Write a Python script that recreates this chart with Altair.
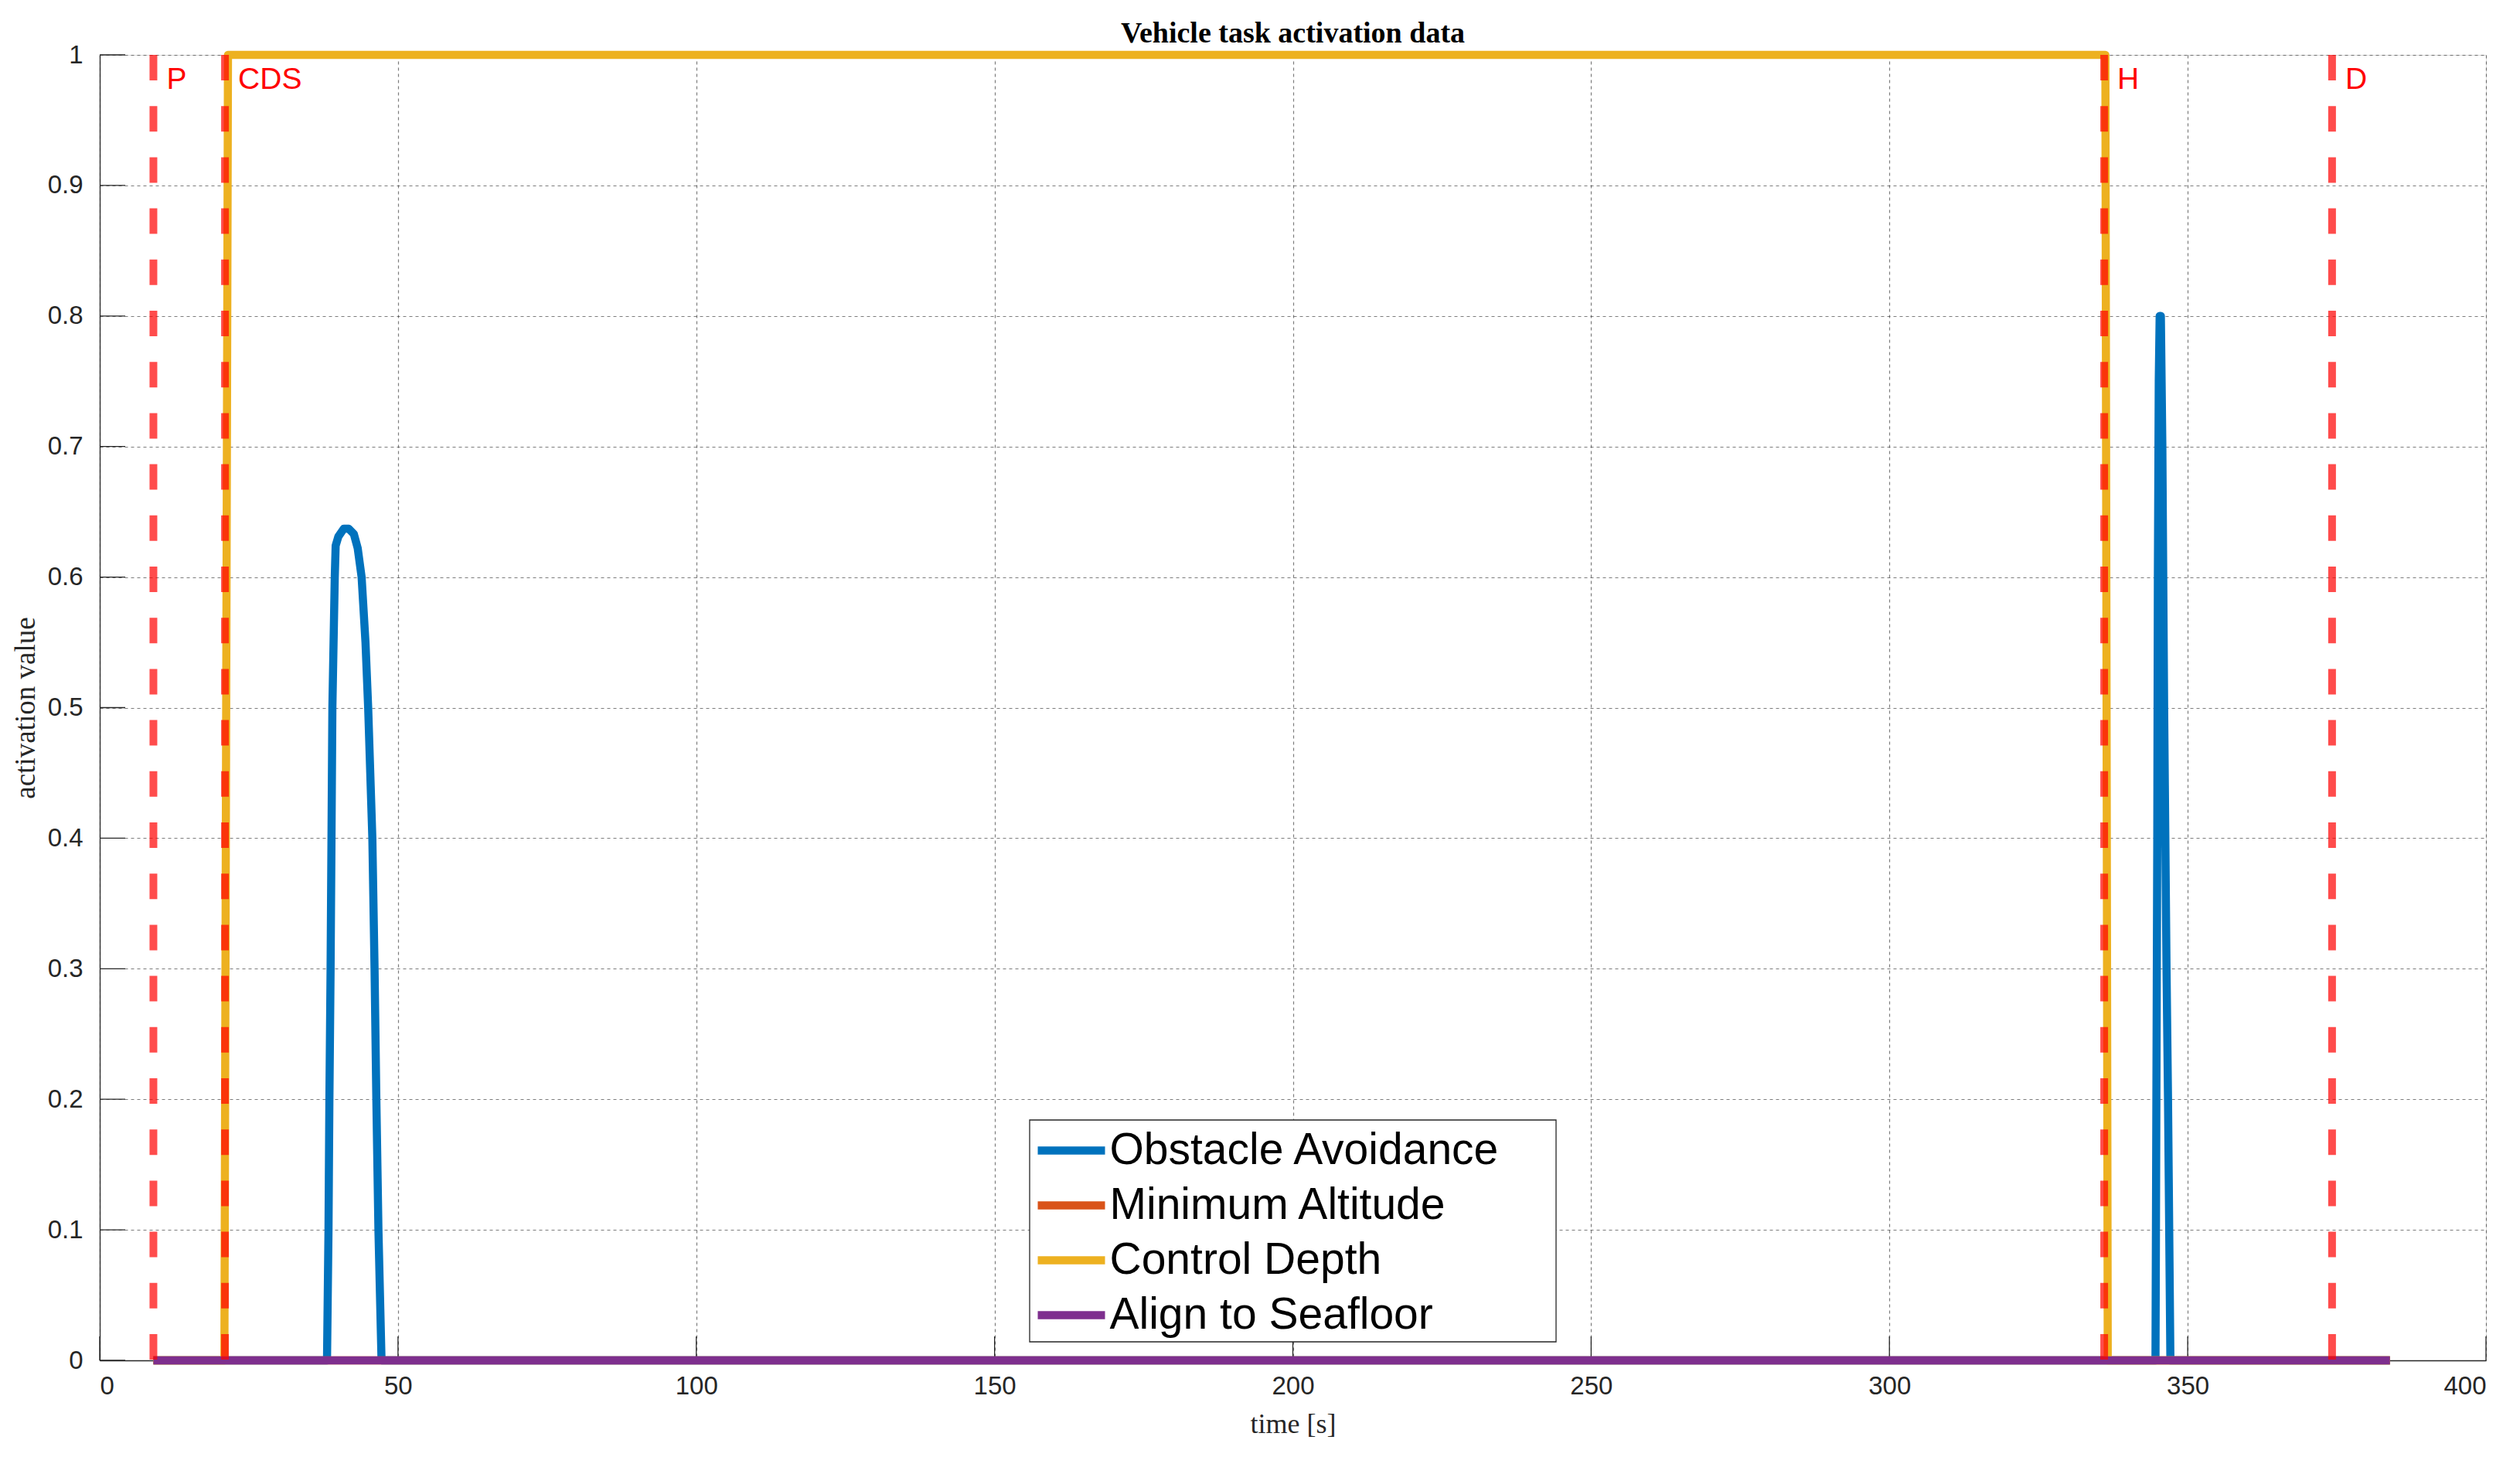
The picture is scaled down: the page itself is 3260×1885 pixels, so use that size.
import altair as alt
import pandas as pd

# ---------------- data ----------------
TITLE = "Vehicle task activation data"
SERIES = ["Obstacle Avoidance", "Minimum Altitude", "Control Depth", "Align to Seafloor"]
COLORS = ["#0072BD", "#D95319", "#EDB120", "#7E2F8E"]

oa_t = [9.0, 38.1, 38.35, 38.5, 38.7, 38.85, 39.0, 39.4, 39.55, 40.0, 40.9, 41.75, 42.6,
        43.25, 43.9, 44.55, 45.0, 45.35, 45.7, 46.07, 46.37, 46.72, 47.24,
        344.6, 344.75, 344.9, 345.0, 345.15, 345.3, 345.5, 345.75, 345.9, 346.05,
        346.25, 346.45, 346.7, 346.9, 347.1, 383.9]
oa_v = [0.0, 0.0, 0.1, 0.2, 0.3, 0.4, 0.5, 0.6, 0.624, 0.631, 0.637, 0.637, 0.633,
        0.622, 0.6, 0.55, 0.5, 0.45, 0.4, 0.3, 0.2, 0.1, 0.0,
        0.0, 0.2, 0.4, 0.6, 0.75, 0.8, 0.8, 0.7, 0.6, 0.5,
        0.4, 0.3, 0.2, 0.1, 0.0, 0.0]

ma_t = [9.0, 383.9]
ma_v = [0.0, 0.0]

cd_t = [9.0, 20.9, 21.5, 336.2, 336.6, 383.9]
cd_v = [0.0, 0.0, 1.0, 1.0, 0.0, 0.0]

as_t = [9.0, 383.9]
as_v = [0.0, 0.0]

EVENT_T = [9.0, 21.0, 336.0, 374.2]
EVENT_LABELS = ["P", "CDS", "H", "D"]

X_TICKS = [0, 50, 100, 150, 200, 250, 300, 350, 400]
Y_TICKS = [0, 0.1, 0.2, 0.3, 0.4, 0.5, 0.6, 0.7, 0.8, 0.9, 1.0]

# ---------------- tables ----------------
rows = []
for name, ts, vs in zip(SERIES, [oa_t, ma_t, cd_t, as_t], [oa_v, ma_v, cd_v, as_v]):
    for i, (t, v) in enumerate(zip(ts, vs)):
        rows.append({"series": name, "t": t, "v": v, "i": i})
lines_df = pd.DataFrame(rows)
events_df = pd.DataFrame({"t": EVENT_T, "label": EVENT_LABELS})
xt_df = pd.DataFrame({"t": X_TICKS})
yt_df = pd.DataFrame({"v": Y_TICKS})
title_df = pd.DataFrame({"title": [TITLE]})

W, H = 3087, 1689
AX = "#262626"
LW = 10.5

x_scale = alt.Scale(domain=[0, 400], nice=False, zero=False)
y_scale = alt.Scale(domain=[0, 1], nice=False)

x_axis = alt.Axis(values=X_TICKS, format="d", title="time [s]", grid=True,
                  gridDash=[4, 4], gridColor=AX, gridOpacity=0.6, gridWidth=1.2,
                  ticks=False, tickSize=0, labelPadding=17, labelFontSize=33,
                  labelFont="Liberation Sans", labelColor=AX, domainColor=AX, domainWidth=1.3,
                  titleFont="Liberation Serif", titleFontSize=36, titleFontWeight="normal",
                  titleColor=AX, titleY=93, titleBaseline="alphabetic")
y_axis = alt.Axis(values=Y_TICKS, format=".1~f", title="activation value", grid=True,
                  gridDash=[4, 4], gridColor=AX, gridOpacity=0.6, gridWidth=1.2,
                  ticks=False, tickSize=0, labelPadding=22, labelFontSize=33,
                  labelFont="Liberation Sans", labelColor=AX, domainColor=AX, domainWidth=1.3,
                  titleFont="Liberation Serif", titleFontSize=37, titleFontWeight="normal",
                  titleColor=AX, titleX=-85, titleBaseline="alphabetic", titleAngle=270)

color = alt.Color("series:N", scale=alt.Scale(domain=SERIES, range=COLORS),
                  legend=alt.Legend(title=None, orient="none", legendX=1206, legendY=1389,
                                    padding=0, symbolType="M-2,0H2", symbolSize=1892,
                                    symbolOffset=22.5, symbolStrokeWidth=LW, labelOffset=21,
                                    rowPadding=13, labelFontSize=57, labelFont="Liberation Sans",
                                    labelColor="black", labelLimit=0, symbolOpacity=1))

# grid/axes carrier
axes_layer = alt.Chart(xt_df).mark_rule(opacity=0).encode(
    x=alt.X("t:Q", scale=x_scale, axis=x_axis),
    y=alt.datum(0, scale=y_scale, axis=y_axis),
)

line_layers = []
for name in SERIES:
    line_layers.append(
        alt.Chart(lines_df).transform_filter(alt.datum.series == name)
        .mark_line(strokeWidth=LW, strokeJoin="round", strokeCap="butt")
        .encode(x=alt.X("t:Q", scale=x_scale, axis=x_axis),
                y=alt.Y("v:Q", scale=y_scale, axis=y_axis),
                color=color, order="i:Q")
    )

event_rules = alt.Chart(events_df).mark_rule(color="#FF0000", opacity=0.7, strokeWidth=10,
                                             strokeDash=[33, 33.2]).encode(
    x=alt.X("t:Q", scale=x_scale),
    y=alt.datum(1),
    y2=alt.datum(0),
)
event_text = alt.Chart(events_df).mark_text(color="#FF0000", align="left", baseline="alphabetic",
                                            dx=17, dy=44, fontSize=39,
                                            font="Liberation Sans").encode(
    x=alt.X("t:Q", scale=x_scale),
    y=alt.datum(1),
    text="label:N",
)

x_ticks = alt.Chart(xt_df).mark_rule(color=AX, strokeWidth=1.3).encode(
    x=alt.X("t:Q", scale=x_scale),
    y=alt.datum(0),
    y2=alt.value(H - 31),
)
y_ticks = alt.Chart(yt_df).mark_rule(color=AX, strokeWidth=1.3).encode(
    y=alt.Y("v:Q", scale=y_scale),
    x=alt.datum(0),
    x2=alt.value(33),
)

legend_box = alt.Chart(pd.DataFrame({"k": [0]})).mark_rect(
    fill="white", stroke=AX, strokeWidth=1.3).encode(
    x=alt.value(1203), x2=alt.value(1884), y=alt.value(1378), y2=alt.value(1665))

title_text = alt.Chart(title_df).mark_text(
    font="Liberation Serif", fontSize=38, fontWeight="bold", color="black",
    align="center", baseline="alphabetic").encode(
    x=alt.value(W / 2), y=alt.value(-16), text="title:N")

chart = alt.layer(axes_layer, x_ticks, y_ticks, *line_layers, event_rules, event_text,
                  legend_box, title_text).properties(
    width=W, height=H,
    autosize=alt.AutoSizeParams(type="none"),
    padding={"left": 121, "top": 63, "right": 30, "bottom": 110},
).configure_view(stroke="transparent").configure(background="white")

chart.save("out.html", embed_options={"renderer": "svg", "actions": False})
